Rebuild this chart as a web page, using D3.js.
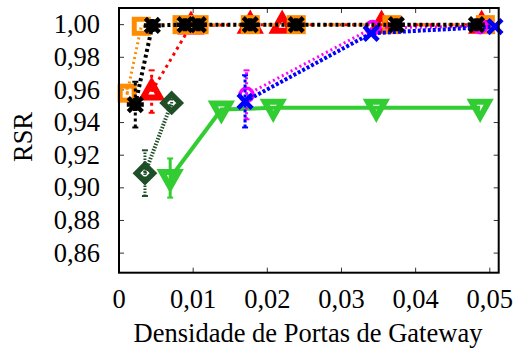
<!DOCTYPE html>
<html>
<head>
<meta charset="utf-8">
<script src="https://cdn.jsdelivr.net/npm/d3@7"></script>
<style>
  body { margin: 0; background: #fff; }
</style>
</head>
<body>
<div class="chart"></div>
<script>
var w = 513;
var h = 356;
var paddingLeft = 119;
var paddingRight = 14.3;
var paddingTop = 8;
var paddingBottom = 83.3;
var fontFamily = "'Liberation Serif', 'DejaVu Serif', serif";
var fontSize = 26.5;

// tick values
var xTicks = [0, 0.01, 0.02, 0.03, 0.04, 0.05];
var yTicks = [0.86, 0.88, 0.90, 0.92, 0.94, 0.96, 0.98, 1.00];

// series
var redX = [0.0044, 0.0097, 0.0177, 0.0220, 0.0354, 0.0489];
var redY = [0.959, 0.9995, 1.0, 1.0, 1.0, 1.0];
var redErr = [0.013, 0, 0, 0, 0, 0];

var orangeX = [0.0011, 0.0030, 0.0085, 0.0108, 0.0177, 0.0239, 0.0368, 0.0494];
var orangeY = [0.958, 0.999, 1.0, 1.0, 1.0, 1.0, 1.0, 1.0];
var orangeErr = [0.004, 0, 0, 0, 0, 0, 0, 0];

var dgreenX = [0.0035, 0.0071];
var dgreenY = [0.909, 0.952];
var dgreenErr = [0.014, 0.004];

var greenX = [0.0069, 0.0138, 0.0208, 0.0347, 0.0487];
var greenY = [0.906, 0.948, 0.949, 0.949, 0.949];
var greenErr = [0.012, 0, 0, 0, 0];

var magentaX = [0.0172, 0.0342, 0.0487];
var magentaY = [0.957, 0.998, 0.999];
var magentaErr = [0.015, 0, 0];

var blueX = [0.0170, 0.0340, 0.0507];
var blueY = [0.953, 0.9947, 0.9988];
var blueErr = [0.016, 0, 0];

var blackX = [0.0022, 0.0045, 0.0089, 0.0107, 0.0177, 0.0239, 0.0374, 0.0482];
var blackY = [0.951, 0.9995, 1.0, 1.0, 1.0, 1.0, 1.0, 1.0];
var blackErr = [0.014, 0, 0, 0, 0, 0, 0, 0];

var createDatum = function(xs, ys, errs) {
  var datum = [];
  for (let i = 0; i < xs.length; i++) {
    datum.push({x: xs[i], y: ys[i], err: errs[i]});
  }
  return datum;
};

var series = [
  {data: createDatum(redX, redY, redErr), color: "#ff0000", dash: "3,4", width: 3, marker: "triangle"},
  {data: createDatum(orangeX, orangeY, orangeErr), color: "#ff8c00", dash: "2,3", width: 3, marker: "square"},
  {data: createDatum(dgreenX, dgreenY, dgreenErr), color: "#1f4f27", dash: "1.5,1.5", width: 4, marker: "diamond"},
  {data: createDatum(greenX, greenY, greenErr), color: "#32cd32", dash: null, width: 4, marker: "itriangle"},
  {data: createDatum(magentaX, magentaY, magentaErr), color: "#ff00ff", dash: "2,3", width: 3, marker: "circle"},
  {data: createDatum(blueX, blueY, blueErr), color: "#0000ff", dash: "3,2", width: 4, marker: "cross"},
  {data: createDatum(blackX, blackY, blackErr), color: "#000000", dash: "3,3", width: 4, marker: "star"}
];

var locale = d3.formatLocale({decimal: ",", thousands: ".", grouping: [3], currency: ["", ""]});
var fmt2 = locale.format(".2f");

var xScale = d3.scaleLinear()
               .domain([0, 0.0512])
               .range([paddingLeft, w - paddingRight]);

var yScale = d3.scaleLinear()
               .domain([0.848, 1.0102])
               .range([h - paddingBottom, paddingTop]);

var svg = d3.select(".chart").append("svg")
            .attr("width", w)
            .attr("height", h)
            .attr("font-family", fontFamily);

// ticks (inward, mirrored)
var tickLen = 5;
var tickG = svg.append("g").attr("stroke", "#333").attr("stroke-width", 1);
xTicks.forEach(function(d) {
  tickG.append("line")
       .attr("x1", xScale(d)).attr("x2", xScale(d))
       .attr("y1", h - paddingBottom).attr("y2", h - paddingBottom - tickLen);
  tickG.append("line")
       .attr("x1", xScale(d)).attr("x2", xScale(d))
       .attr("y1", paddingTop).attr("y2", paddingTop + tickLen);
});
yTicks.forEach(function(d) {
  tickG.append("line")
       .attr("x1", paddingLeft).attr("x2", paddingLeft + tickLen)
       .attr("y1", yScale(d)).attr("y2", yScale(d));
  tickG.append("line")
       .attr("x1", w - paddingRight).attr("x2", w - paddingRight - tickLen)
       .attr("y1", yScale(d)).attr("y2", yScale(d));
});

// tick labels
svg.selectAll("xTickLabel")
   .data(xTicks)
   .enter()
   .append("text")
   .attr("x", function(d) { return xScale(d); })
   .attr("y", h - paddingBottom + 35)
   .attr("text-anchor", "middle")
   .attr("font-family", fontFamily)
   .attr("font-size", fontSize)
   .text(function(d) { return d === 0 ? "0" : fmt2(d); });

svg.selectAll("yTickLabel")
   .data(yTicks)
   .enter()
   .append("text")
   .attr("x", paddingLeft - 19)
   .attr("y", function(d) { return yScale(d) + 8.6; })
   .attr("text-anchor", "end")
   .attr("font-family", fontFamily)
   .attr("font-size", fontSize)
   .text(function(d) { return fmt2(d); });

// axis titles
svg.append("text")
   .attr("text-anchor", "middle")
   .attr("transform", "translate(32,137) rotate(-90)")
   .attr("font-family", fontFamily)
   .attr("font-size", fontSize)
   .text("RSR");

svg.append("text")
   .attr("text-anchor", "middle")
   .attr("x", 308)
   .attr("y", 342)
   .attr("font-family", fontFamily)
   .attr("font-size", fontSize)
   .text("Densidade de Portas de Gateway");

// plot area
var plot = svg.append("g");

var line = d3.line()
             .x(function(d) { return xScale(d.x); })
             .y(function(d) { return yScale(d.y); });

var drawMarker = function(g, type, color, cx, cy) {
  var p;
  if (type === "square") {
    g.append("rect").attr("x", cx - 7).attr("y", cy - 7)
     .attr("width", 14).attr("height", 14)
     .attr("fill", "none").attr("stroke", color).attr("stroke-width", 5);
  } else if (type === "triangle") {
    p = [[cx, cy - 9], [cx + 8.5, cy + 6], [cx - 8.5, cy + 6]];
    g.append("path").attr("d", "M" + p.join("L") + "Z")
     .attr("fill", "none").attr("stroke", color).attr("stroke-width", 6)
     .attr("stroke-linejoin", "miter");
  } else if (type === "itriangle") {
    p = [[cx, cy + 9], [cx + 8.5, cy - 6], [cx - 8.5, cy - 6]];
    g.append("path").attr("d", "M" + p.join("L") + "Z")
     .attr("fill", "none").attr("stroke", color).attr("stroke-width", 6)
     .attr("stroke-linejoin", "miter");
  } else if (type === "diamond") {
    p = [[cx, cy - 8.5], [cx + 8.5, cy], [cx, cy + 8.5], [cx - 8.5, cy]];
    g.append("path").attr("d", "M" + p.join("L") + "Z")
     .attr("fill", "none").attr("stroke", color).attr("stroke-width", 5.5);
  } else if (type === "circle") {
    g.append("circle").attr("cx", cx).attr("cy", cy).attr("r", 6.5)
     .attr("fill", "none").attr("stroke", color).attr("stroke-width", 3.5);
  } else if (type === "cross") {
    g.append("path")
     .attr("d", "M" + (cx - 7) + "," + (cy - 7) + "L" + (cx + 7) + "," + (cy + 7) +
                "M" + (cx - 7) + "," + (cy + 7) + "L" + (cx + 7) + "," + (cy - 7))
     .attr("stroke", color).attr("stroke-width", 4.5);
  } else if (type === "star") {
    g.append("path")
     .attr("d", "M" + (cx - 8.5) + "," + cy + "L" + (cx + 8.5) + "," + cy +
                "M" + (cx - 7) + "," + (cy - 7) + "L" + (cx + 7) + "," + (cy + 7) +
                "M" + (cx - 7) + "," + (cy + 7) + "L" + (cx + 7) + "," + (cy - 7) +
                "M" + cx + "," + (cy - 6.5) + "L" + cx + "," + (cy + 6.5))
     .attr("stroke", color).attr("stroke-width", 4.5);
  }
};

series.forEach(function(s) {
  var g = plot.append("g");
  // error bars
  s.data.forEach(function(d) {
    if (d.err > 0) {
      g.append("line")
       .attr("x1", xScale(d.x)).attr("x2", xScale(d.x))
       .attr("y1", yScale(d.y - d.err)).attr("y2", yScale(d.y + d.err))
       .attr("stroke", s.color).attr("stroke-width", 3)
       .attr("stroke-dasharray", s.dash);
      [d.y - d.err, d.y + d.err].forEach(function(v) {
        g.append("line")
         .attr("x1", xScale(d.x) - 3).attr("x2", xScale(d.x) + 3)
         .attr("y1", yScale(v)).attr("y2", yScale(v))
         .attr("stroke", s.color).attr("stroke-width", 2);
      });
    }
  });
  g.append("path")
   .datum(s.data)
   .attr("d", line)
   .attr("fill", "none")
   .attr("stroke", s.color)
   .attr("stroke-width", s.width)
   .attr("stroke-dasharray", s.dash);
  s.data.forEach(function(d) {
    drawMarker(g, s.marker, s.color, xScale(d.x), yScale(d.y));
  });
});

// frame
svg.append("rect")
   .attr("x", paddingLeft)
   .attr("y", paddingTop)
   .attr("width", w - paddingRight - paddingLeft)
   .attr("height", h - paddingBottom - paddingTop)
   .attr("fill", "none")
   .attr("stroke", "#000")
   .attr("stroke-width", 2);
</script>
</body>
</html>
